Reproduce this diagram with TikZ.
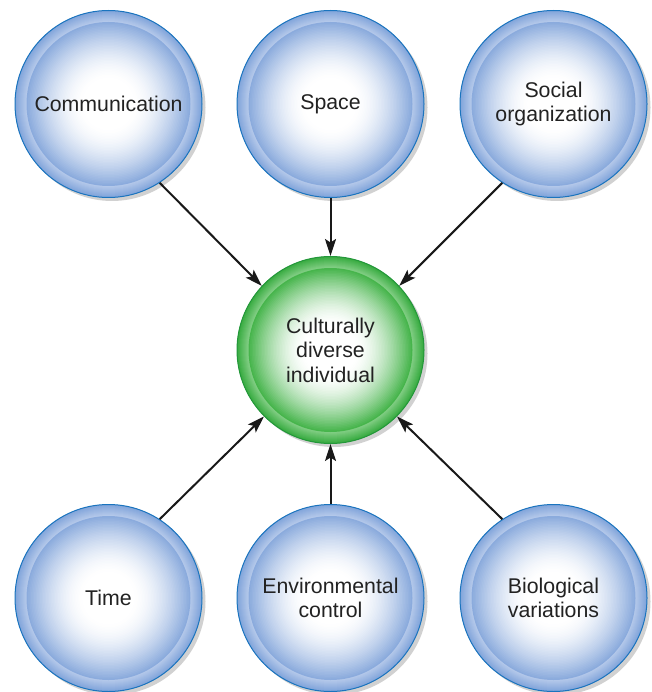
\documentclass[tikz,border=0pt]{standalone}
\usepackage{fontspec}
\setmainfont{Liberation Sans}
\usetikzlibrary{arrows.meta,shadows}
\definecolor{edgeblue}{HTML}{1A74BE}
\definecolor{ringbluein}{HTML}{B8CBEB}
\definecolor{ringblueout}{HTML}{7FA3DA}
\definecolor{innerblue}{HTML}{8BABDD}
\definecolor{edgegreen}{HTML}{23973A}
\definecolor{ringgreenin}{HTML}{86D088}
\definecolor{ringgreenout}{HTML}{35AA3E}
\definecolor{innergreen}{HTML}{47B54C}
\definecolor{txt}{HTML}{222222}
\newcommand{\bubblefill}[3]{%
  \foreach \r in {94,93,...,82} {%
    \pgfmathsetmacro\p{100*(\r-82)/12}%
    \fill[#2!\p!#1] (path picture bounding box.center) circle (\r pt);}%
  \foreach \r in {82,80.5,...,26} {%
    \pgfmathsetmacro\p{100*((\r-26)/56)^1.6}%
    \fill[#3!\p!white] (path picture bounding box.center) circle (\r pt);}%
}
\tikzset{
  bubble/.style={circle, minimum size=187pt, inner sep=0pt, align=center,
    fill=ringblueout, draw=edgeblue, line width=1pt,
    text=txt, font=\fontsize{21.3}{24.5}\selectfont,
    drop shadow={shadow xshift=3.5pt, shadow yshift=-3.5pt, fill=black!30, opacity=0.6},
    path picture={\bubblefill{ringbluein}{ringblueout}{innerblue}}},
  centerbubble/.style={bubble, fill=ringgreenout, draw=edgegreen,
    path picture={\bubblefill{ringgreenin}{ringgreenout}{innergreen}}},
  link/.style={line width=2pt, black!90, -{Stealth[length=17pt, width=11pt, inset=3.5pt]}}
}
\begin{document}
\begin{tikzpicture}[x=1pt, y=-1pt]
\useasboundingbox (0,0) rectangle (651,692);
\node[bubble] (com) at (108.5,104) {Communication};
\node[bubble] (spa) at (330.5,104) {Space};
\node[bubble] (soc) at (553.5,104) {Social\\organization};
\node[centerbubble] (cen) at (330.5,350) {Culturally\\diverse\\individual};
\node[bubble] (tim) at (108.5,598) {Time};
\node[bubble] (env) at (330.5,598) {Environmental\\control};
\node[bubble] (bio) at (553.5,598) {Biological\\variations};
\draw[link] (com.-57) -- (cen.137);
\draw[link] (spa.south) -- (cen.north);
\draw[link] (soc.-123) -- (cen.43);
\draw[link] (tim.57) -- (cen.-135);
\draw[link] (env.north) -- (cen.south);
\draw[link] (bio.123) -- (cen.-45);
\end{tikzpicture}
\end{document}
